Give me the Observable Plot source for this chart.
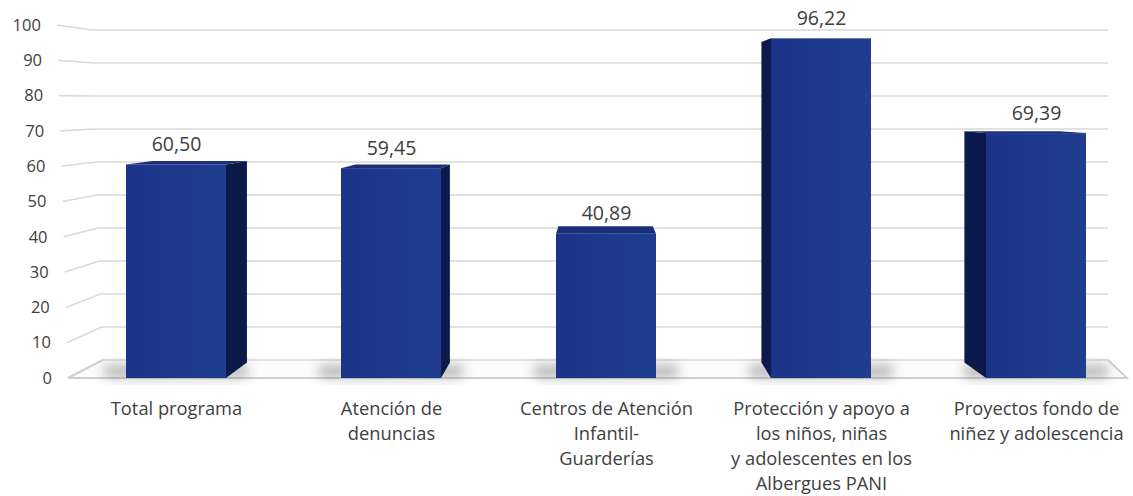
<!DOCTYPE html>
<html><head><meta charset="utf-8">
<script src="https://cdn.jsdelivr.net/npm/d3@7"></script>
<script src="https://cdn.jsdelivr.net/npm/@observablehq/plot@0.6"></script>
<style>body{margin:0;background:#fff} svg{display:block}</style>
</head><body><div id="chart"></div>
<script>
// ---- data ----
const categories = [
  "Total programa",
  "Atención de denuncias",
  "Centros de Atención Infantil-Guarderías",
  "Protección y apoyo a los niños, niñas y adolescentes en los Albergues PANI",
  "Proyectos fondo de niñez y adolescencia"
];
const categoryLabels = [
  "Total programa",
  "Atención de\ndenuncias",
  "Centros de Atención\nInfantil-\nGuarderías",
  "Protección y apoyo a\nlos niños, niñas\ny adolescentes en los\nAlbergues PANI",
  "Proyectos fondo de\nniñez y adolescencia"
];
const values = [60.50, 59.45, 40.89, 96.22, 69.39];
const yTicks = [0, 10, 20, 30, 40, 50, 60, 70, 80, 90, 100];

const data = categories.map((c, i) => ({category: c, label: categoryLabels[i], value: values[i]}));
const fmt = v => v.toFixed(2).replace(".", ",");

// ---- 3D look (style only) ----
const VX = 600, VY = 102;      // vanishing point
const KB = 0.056;              // bar depth
const KW = 0.065;              // back wall depth
const TILT = 0.0314;           // slant of the left wall edge
const FONT = "'Open Sans', sans-serif";
const TEXT = "#404040";

function bw(scales) {
  const s = scales.x;
  if (typeof s.bandwidth === "function") return s.bandwidth();
  if (typeof s.bandwidth === "number") return s.bandwidth;
  return 100;
}

// floor + back wall gridlines + y tick labels
function wallsMark(index, scales, values, dim) {
  const g = d3.create("svg:g");
  const y0 = scales.y(0);
  const x0 = dim.marginLeft;
  const xRightFront = dim.width - 6;
  const xRightBack = dim.width - 25;
  const lf = yf => x0 - (y0 - yf) * TILT;
  const back = (x, y) => [x + KW * (VX - x), y + KW * (VY - y)];
  // floor
  const [bxl, byl] = back(lf(y0), y0);
  g.append("path")
    .attr("d", `M${lf(y0)},${y0}L${xRightFront},${y0}L${xRightBack},${byl}L${bxl},${byl}Z`)
    .attr("fill", "#fcfcfc");
  // gridlines
  for (const v of yTicks) {
    const yf = scales.y(v), xf = lf(yf);
    const [xb, yb] = back(xf, yf);
    g.append("path")
      .attr("d", `M${xf},${yf}L${xb},${yb}L${xRightBack},${yb}`)
      .attr("fill", "none").attr("stroke", "#d9d9d9").attr("stroke-width", 1.6);
    g.append("text")
      .attr("x", xf - 16).attr("y", yf).attr("dy", "0.35em")
      .attr("text-anchor", "end").attr("fill", TEXT)
      .attr("font-family", FONT).attr("font-size", 16.5)
      .text(v);
  }
  // floor edges
  g.append("path")
    .attr("d", `M${bxl},${byl}L${lf(y0)},${y0}L${xRightFront},${y0}L${xRightBack},${byl}`)
    .attr("fill", "none").attr("stroke", "#cfcfcf").attr("stroke-width", 2);
  return g.node();
}

function barsMark(index, scales, values, dim) {
  const g = d3.create("svg:g");
  const defs = g.append("defs");
  defs.append("filter").attr("id", "barblur").attr("x", "-50%").attr("y", "-50%").attr("width", "200%").attr("height", "200%")
    .append("feGaussianBlur").attr("stdDeviation", 6);
  const grad = defs.append("linearGradient").attr("id", "barfront").attr("x1", 0).attr("x2", 1).attr("y1", 0).attr("y2", 0);
  grad.append("stop").attr("offset", 0).attr("stop-color", "#1c3487");
  grad.append("stop").attr("offset", 1).attr("stop-color", "#203d90");
  const w = bw(scales);
  const y0 = scales.y(0);
  const back = (x, y) => [x + KB * (VX - x), y + KB * (VY - y)];
  for (const d of data) {
    const x1 = scales.x(d.category), x2 = x1 + w;
    const yt = scales.y(d.value);
    const [, yb0] = back(x1, y0);
    // shadow
    g.append("rect").attr("x", x1 - 22).attr("width", w + 44)
      .attr("y", yb0 + 2).attr("height", y0 - yb0 - 2)
      .attr("fill", "#7a7a7a").attr("opacity", 0.5).attr("filter", "url(#barblur)");
    const cx = (x1 + x2) / 2;
    // side face
    const sx = cx < VX - 20 ? x2 : cx > VX + 20 ? x1 : null;
    if (sx !== null) {
      const [bxt, byt] = back(sx, yt), [bxb, byb] = back(sx, y0);
      g.append("path").attr("d", `M${sx},${yt}L${bxt},${byt}L${bxb},${byb}L${sx},${y0}Z`)
        .attr("fill", "#0c1a4b");
    }
    // top face
    const [b1x, b1y] = back(x1, yt), [b2x, b2y] = back(x2, yt);
    if (b1y < yt) {
      g.append("path").attr("d", `M${x1},${yt}L${x2},${yt}L${b2x},${b2y}L${b1x},${b1y}Z`)
        .attr("fill", "#1a2f78");
    }
    // front face
    g.append("rect").attr("x", x1).attr("y", yt).attr("width", w).attr("height", y0 - yt)
      .attr("fill", "url(#barfront)");
  }
  return g.node();
}

const plot = Plot.plot({
  width: 1133,
  height: 496,
  marginTop: 25,
  marginBottom: 118,
  marginLeft: 68,
  marginRight: 0,
  x: {type: "band", domain: categories, range: [68, 1143], paddingInner: 0.535, paddingOuter: 0.2675, axis: null},
  y: {domain: [0, 100], axis: null},
  style: {fontFamily: FONT, color: TEXT, background: "#fff", overflow: "visible"},
  marks: [
    wallsMark,
    barsMark,
    Plot.text(data, {
      x: "category", y: "value", text: d => fmt(d.value),
      dy: -14, lineAnchor: "bottom", fontSize: 19.5, fill: TEXT
    }),
    Plot.text(data, {
      x: "category", frameAnchor: "bottom", text: "label",
      dy: 19, lineAnchor: "top", lineHeight: 1.36, fontSize: 18.3, fill: TEXT
    })
  ]
});
document.getElementById("chart").appendChild(plot);
</script>
</body></html>
